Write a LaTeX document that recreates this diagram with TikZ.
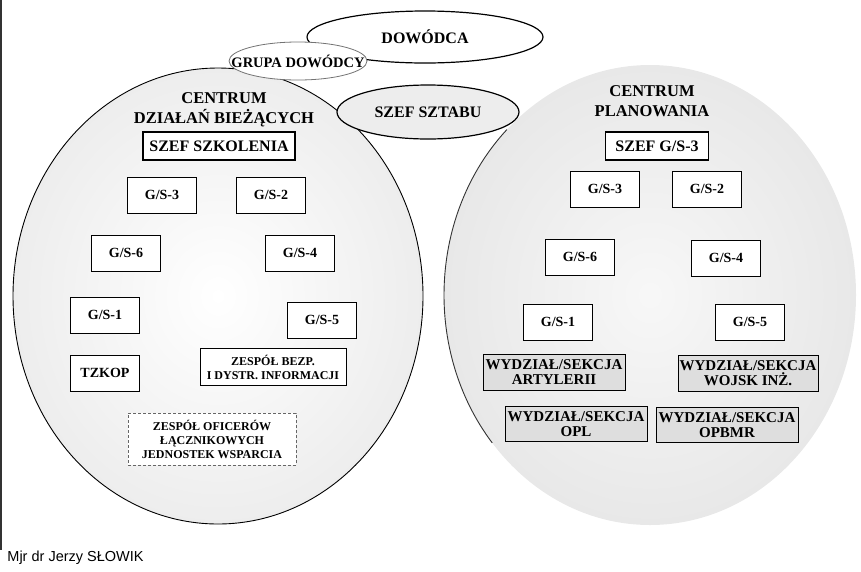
\documentclass[tikz,border=0pt]{standalone}
\usepackage{fontspec}
\setmainfont{Liberation Serif}
\newfontfamily\signfont{Liberation Sans}
\usetikzlibrary{shapes.geometric}

\begin{document}
\begin{tikzpicture}[
  x=1pt, y=-1pt,
  line width=0.9pt,
  centre/.style={ellipse, inner sep=0pt, minimum width=410pt, minimum height=456pt},
  oval/.style  ={ellipse, draw, line width=1.2pt, fill=white, inner sep=0pt,
                 font=\bfseries\fontsize{16}{18}\selectfont},
  title/.style ={align=center, font=\bfseries\fontsize{16.5}{20}\selectfont},
  cell/.style  ={draw, fill=white, inner sep=1pt, minimum width=69pt, minimum height=36pt,
                 font=\bfseries\fontsize{14}{15}\selectfont},
  head/.style  ={cell, line width=1.3pt, minimum height=28pt,
                 font=\bfseries\fontsize{16}{18}\selectfont},
  team/.style  ={cell, align=center, font=\bfseries\fontsize{12}{14}\selectfont},
  sect/.style  ={cell, fill=black!13, minimum width=142pt, align=center,
                 font=\bfseries\fontsize{15}{15}\selectfont}
]
\useasboundingbox (0,0) rectangle (861,571);

% the two centres
\node[centre, draw, shading=radial, inner color=white, outer color=black!7] (cdb) at (218,296) {};
\node[centre, shading=radial, inner color=black!3, outer color=black!9,
      minimum width=412pt, minimum height=460pt] (cpl) at (650,295) {};
\draw[black!80] (cpl.center) ++(140:206 and 230)
  arc[start angle=140, end angle=226, x radius=206, y radius=230];

% command group
\node[oval, minimum width=236pt, minimum height=52pt] (dow) at (425,37) {DOWÓDCA};
\node[oval, draw=black!55, line width=0.8pt, minimum width=138pt, minimum height=38pt,
      label={[font=\bfseries\fontsize{14.5}{15}\selectfont]center:GRUPA DOWÓDCY}]
      (grp) at (298,61) {};
\node[oval, fill=black!7, minimum width=182pt, minimum height=54pt] (szt) at (428,112) {SZEF SZTABU};

% centrum dzialan biezacych
\node[title] (tcdb) at (224,110) {CENTRUM\\DZIAŁAŃ BIEŻĄCYCH};
\node[head, minimum width=152pt] (szk) at (219,146) {SZEF SZKOLENIA};
\node[cell] (lg3) at (162,195) {G/S-3};
\node[cell] (lg2) at (271,195) {G/S-2};
\node[cell] (lg6) at (126,253) {G/S-6};
\node[cell] (lg4) at (300,253) {G/S-4};
\node[cell] (lg1) at (105,315) {G/S-1};
\node[cell] (lg5) at (322,320) {G/S-5};
\node[cell] (tzk) at (105,373) {TZKOP};
\node[team, minimum width=146pt, minimum height=37pt] (bez) at (273,367)
  {ZESPÓŁ BEZP.\\I DYSTR. INFORMACJI};
\node[team, draw=black!60, densely dashed, minimum width=168pt, minimum height=52pt,
      font=\bfseries\fontsize{12}{14}\selectfont] (lno) at (212,439)
  {ZESPÓŁ OFICERÓW\\ŁĄCZNIKOWYCH\\JEDNOSTEK WSPARCIA};

% centrum planowania
\node[title] (tcpl) at (652,101) {CENTRUM\\PLANOWANIA};
\node[head, minimum width=103pt] (szg) at (657,146) {SZEF G/S-3};
\node[cell] (rg3) at (605,189) {G/S-3};
\node[cell] (rg2) at (707,189) {G/S-2};
\node[cell] (rg6) at (580,257) {G/S-6};
\node[cell] (rg4) at (726,258) {G/S-4};
\node[cell] (rg1) at (558,322) {G/S-1};
\node[cell] (rg5) at (750,322) {G/S-5};
\node[sect] (art) at (554,372) {WYDZIAŁ/SEKCJA\\ARTYLERII};
\node[sect, minimum width=140pt] (inz) at (748,373) {WYDZIAŁ/SEKCJA\\WOJSK INŻ.};
\node[sect, minimum height=35pt] (opl) at (576,424) {WYDZIAŁ/SEKCJA\\OPL};
\node[sect, minimum height=35pt] (opb) at (727,425) {WYDZIAŁ/SEKCJA\\OPBMR};

% frame and signature
\draw[black!80, line width=1.2pt] (1,0) -- (1,550);
\node[anchor=west, inner sep=0pt, font=\signfont\fontsize{14.5}{16}\selectfont] (sig) at (7,558)
  {Mjr dr Jerzy SŁOWIK};

\end{tikzpicture}
\end{document}
